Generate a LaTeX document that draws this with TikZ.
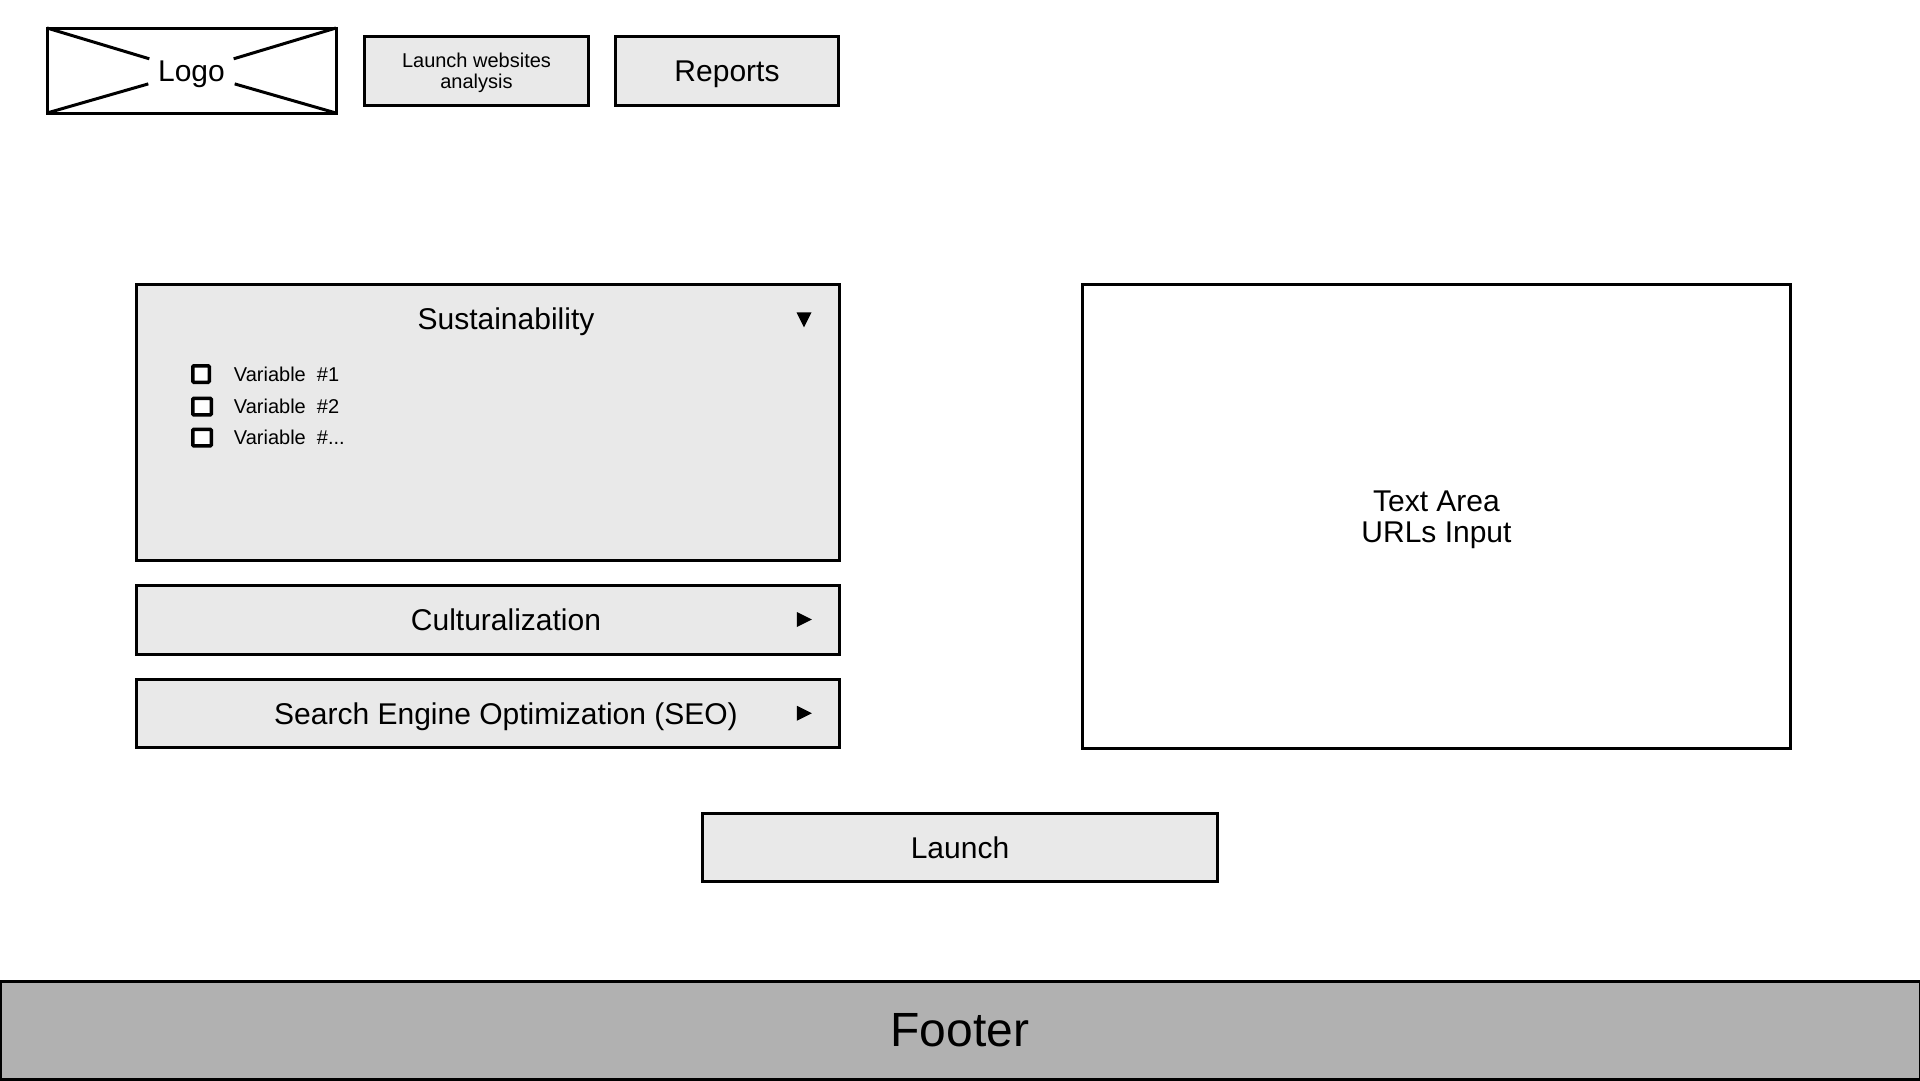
\documentclass[tikz,border=0pt]{standalone}
\usepackage{fontspec}
\setmainfont{Liberation Sans}
\usetikzlibrary{positioning, shapes.geometric}
\definecolor{panelgrey}{HTML}{E9E9E9}
\definecolor{footergrey}{HTML}{B1B1B1}
\tikzset{
  box/.style={draw=black, line width=3pt, fill=panelgrey, outer sep=0pt, inner sep=0pt},
  bigtext/.style={font=\fontsize{30}{31}\selectfont, inner sep=0pt, align=center, text depth=0pt},
  smalltext/.style={font=\fontsize{20}{20.8}\selectfont, inner sep=0pt, align=center, text depth=0pt},
  vartext/.style={font=\fontsize{20}{20}\selectfont, inner sep=0pt},
  tick/.style={box, fill=white, line width=3.5pt, rounded corners=1pt},
  marker/.style={isosceles triangle, isosceles triangle stretches, fill=black, inner sep=0pt, minimum height=15pt, minimum width=15pt, outer sep=0pt},
}
\begin{document}
\begin{tikzpicture}[x=1pt, y=-1pt]
\useasboundingbox (0,0) rectangle (1920,1080);

% header
\node (LogoBox) [box, fill=white, minimum width=289pt, minimum height=85pt] at (191.5,70.5) {};
\node (Logo) [bigtext, minimum width=86pt, minimum height=25pt] at ([yshift=-1pt]LogoBox.center) {Logo};
\draw [line width=3pt] (LogoBox.north west) -- (Logo);
\draw [line width=3pt] (LogoBox.north east) -- (Logo);
\draw [line width=3pt] (LogoBox.south west) -- (Logo);
\draw [line width=3pt] (LogoBox.south east) -- (Logo);
\node (LaunchSites) [box, smalltext, minimum width=224pt, minimum height=68.5pt] at (476.5,71) {Launch websites\\analysis};
\node (Reports) [box, bigtext, minimum width=223pt, minimum height=68.5pt, right=27pt of LaunchSites] {Reports};

% left column
\node (Sus) [box, minimum width=703pt, minimum height=276pt] at (487.5,422) {};
\node (Cult) [box, minimum width=703pt, minimum height=69pt, below=25pt of Sus] {};
\node (Seo) [box, minimum width=703pt, minimum height=68.5pt, below=25pt of Cult] {};
\node (SusLabel) [bigtext] at ([xshift=18.5pt, yshift=-35pt]Sus.north) {Sustainability};
\node (CultLabel) [bigtext] at ([xshift=18.5pt]Cult.center) {Culturalization};
\node (SeoLabel) [bigtext] at ([xshift=18.5pt]Seo.center) {Search Engine Optimization (SEO)};
\node (SusMark) [marker, shape border rotate=-90] at ([xshift=-35pt, yshift=-33pt]Sus.north east) {};
\node (CultMark) [marker] at ([xshift=-37.5pt]Cult.east) {};
\node (SeoMark) [marker] at ([xshift=-37.5pt]Seo.east) {};

% checkboxes
\node (Box1) [tick, minimum width=16.5pt, minimum height=16.5pt] at (201,374) {};
\node (Box2) [tick, minimum width=18.5pt, minimum height=16.5pt] at (202,406.7) {};
\node (Box3) [tick, minimum width=18.5pt, minimum height=16.5pt] at (202,437.7) {};
\node (Var1) [vartext, right=24.5pt of Box1] {Variable\ \ \#1};
\node (Var2) [vartext, right=22.5pt of Box2] {Variable\ \ \#2};
\node (Var3) [vartext, right=22.5pt of Box3] {Variable\ \ \#...};

% right side and bottom
\node (Urls) [box, bigtext, fill=white, minimum width=708.5pt, minimum height=463.5pt] at (1436.5,516.5) {Text Area\\URLs Input};
\node (Launch) [box, bigtext, minimum width=515.5pt, minimum height=68.5pt] at (960,847.5) {Launch};
\node (Footer) [box, fill=footergrey, font=\fontsize{48}{50}\selectfont, minimum width=1920pt, minimum height=98pt] at (960,1030) {Footer};
\end{tikzpicture}
\end{document}
